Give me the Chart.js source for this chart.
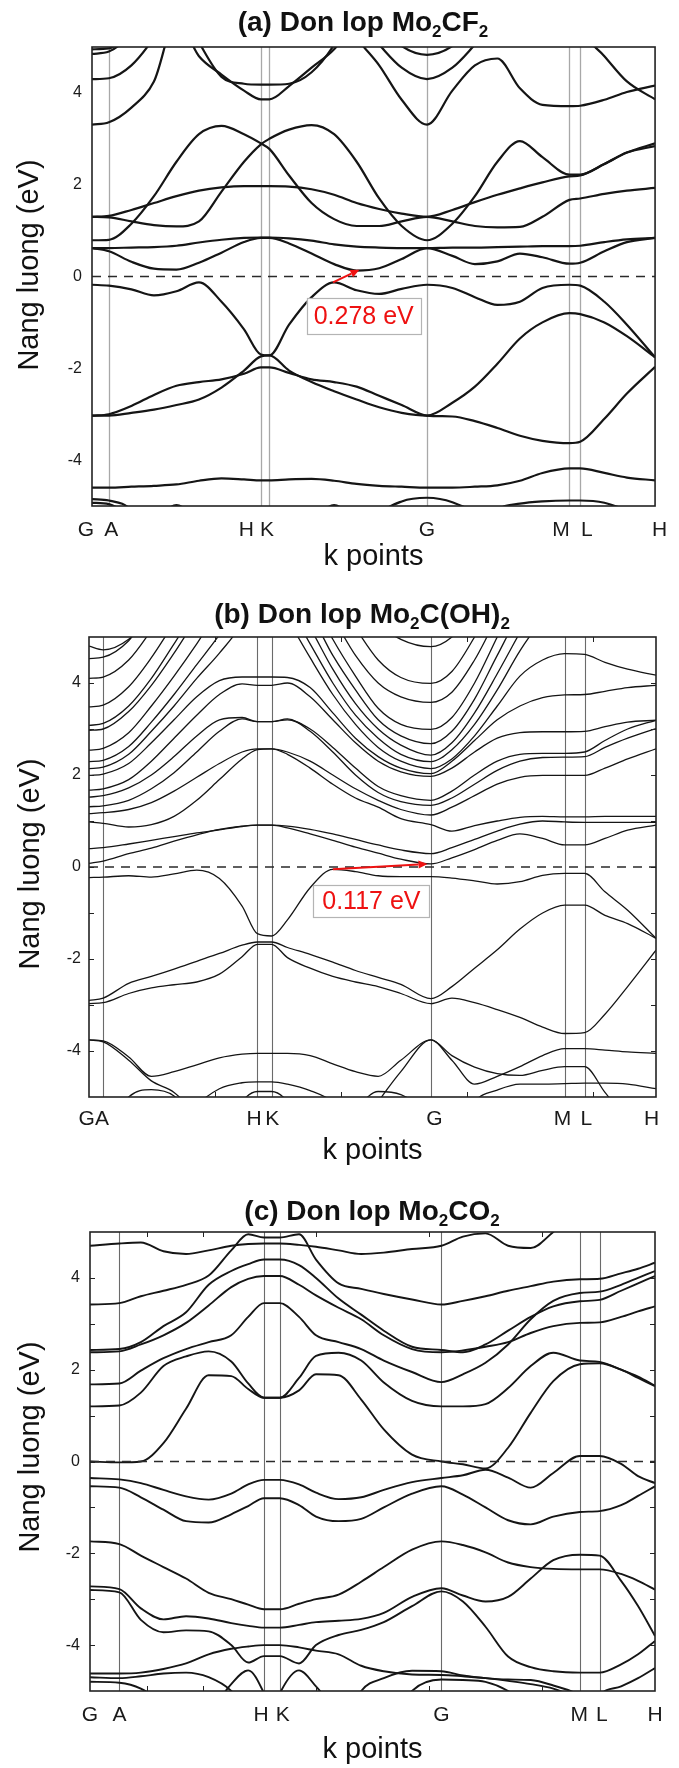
<!DOCTYPE html>
<html>
<head>
<meta charset="utf-8">
<script src="https://cdn.jsdelivr.net/npm/chart.js@4.4.1/dist/chart.umd.min.js"></script>
<style>
html, body { margin: 0; padding: 0; background: #fff; }
#wrap { position: relative; width: 679px; height: 1768px; }
#wrap canvas { position: absolute; left: 0; }
</style>
</head>
<body>
<div id="wrap">
  <canvas id="panelA" width="679" height="585" style="top:0px"></canvas>
  <canvas id="panelB" width="679" height="590" style="top:585px"></canvas>
  <canvas id="panelC" width="679" height="593" style="top:1175px"></canvas>
</div>
<script>
// ---------- shared axis data ----------
const yTickValues = [-4, -2, 0, 2, 4];
const fermiLevel = 0;
const kLabels = ['G', 'A', 'H', 'K', 'G', 'M', 'L', 'H'];

// ---------- (a) Mo2CF2 ----------
const kA = [0, 0.03, 0.07, 0.11, 0.15, 0.19, 0.23, 0.27, 0.30, 0.315, 0.35, 0.39, 0.43, 0.47, 0.51, 0.55, 0.595, 0.64, 0.68, 0.72, 0.76, 0.80, 0.848, 0.867, 0.91, 0.95, 1.0];
const symA = [0, 0.03, 0.30, 0.315, 0.595, 0.848, 0.867, 1];
const labelPosA = [-0.011, 0.034, 0.274, 0.311, 0.595, 0.833, 0.879, 1.008];

const a_cb1 = [0.62,0.55,0.32,0.17,0.15,0.3,0.52,0.75,0.84,0.84,0.72,0.5,0.27,0.13,0.18,0.38,0.62,0.45,0.27,0.33,0.5,0.42,0.28,0.3,0.55,0.75,0.84];
const a_flat = [0.62,0.62,0.63,0.64,0.67,0.74,0.8,0.84,0.85,0.85,0.83,0.78,0.7,0.65,0.63,0.62,0.62,0.63,0.63,0.64,0.65,0.66,0.66,0.67,0.75,0.81,0.84];
const a_humpL = [0.79,0.8,1.15,1.75,2.5,3.1,3.28,3.1,2.9,2.78,2.2,1.6,1.25,1.1,1.1,1.2,1.3,1.2,1.1,1.07,1.08,1.3,1.67,1.7,1.8,1.87,1.93];
const a_humpR = [1.3,1.29,1.2,1.12,1.09,1.2,1.85,2.5,2.88,3.0,3.2,3.3,3.1,2.5,1.7,1.1,0.79,1.15,1.75,2.5,2.95,2.6,2.22,2.22,2.45,2.7,2.9];
const a_arc = [1.3,1.32,1.45,1.6,1.75,1.87,1.94,1.97,1.97,1.97,1.96,1.9,1.78,1.6,1.47,1.37,1.3,1.45,1.62,1.78,1.92,2.05,2.18,2.2,2.45,2.7,2.84];
const a_u1 = [3.31,3.36,3.68,4.25,5.6,4.8,4.4,4.05,3.86,3.86,4.15,4.55,4.95,5.6,6,6,6,6,6,6,6,6,6,6,6,6,6];
const a_u2 = [6,6,6,6,6,5.1,4.35,4.2,4.18,4.18,4.2,4.45,5.05,6,6,6,6,6,6,6,6,6,6,6,6,6,6];
const a_u3 = [4.3,4.32,4.6,5.2,6,6,6,6,6,6,6,6,6,6,6,6,6,6,6,6,6,6,6,6,6,6,6];
const a_u4 = [4.85,4.9,5.3,6,6,6,6,6,6,6,6,6,6,6,6,6,6,6,6,6,6,6,6,6,6,6,6];
const a_u5 = [4.95,4.97,5.4,6,6,6,6,6,6,6,6,6,6,6,6,6,6,6,6,6,6,6,6,6,6,6,6];
const a_vG = [6,6,6,6,6,6,6,6,6,6,6,6,6,5.2,4.6,3.85,3.31,4.05,4.6,4.75,4.1,3.74,3.71,3.72,3.85,4.02,4.16];
const a_uG = [6,6,6,6,6,6,6,6,6,6,6,6,6,5.6,5.05,4.55,4.3,4.55,5.05,5.6,6,6,6,6,6,6,6];
const a_uG2 = [6,6,6,6,6,6,6,6,6,6,6,6,6,6,5.5,5.02,4.83,5.02,5.5,6,6,6,6,6,6,6,6];
const a_topR = [6,6,6,6,6,6,6,6,6,6,6,6,6,6,6,6,6,6,6,6,6,6,6,5.4,4.8,4.25,3.86];
const a_vb1 = [-0.18,-0.2,-0.28,-0.41,-0.32,-0.13,-0.55,-1.15,-1.7,-1.72,-1.05,-0.45,-0.13,-0.3,-0.38,-0.27,-0.18,-0.25,-0.45,-0.62,-0.55,-0.25,-0.18,-0.2,-0.55,-1.05,-1.76];
const a_vb2 = [-3.03,-3.03,-2.97,-2.9,-2.8,-2.68,-2.42,-2.05,-1.74,-1.72,-2.05,-2.3,-2.5,-2.68,-2.85,-2.97,-3.03,-2.75,-2.4,-1.9,-1.35,-1.0,-0.8,-0.82,-1.0,-1.3,-1.76];
const a_vb3 = [-3.03,-3.0,-2.82,-2.58,-2.38,-2.3,-2.24,-2.12,-1.98,-1.98,-2.1,-2.24,-2.3,-2.4,-2.6,-2.8,-3.03,-3.05,-3.15,-3.3,-3.47,-3.58,-3.63,-3.6,-3.1,-2.55,-1.97];
const a_vb4 = [-4.6,-4.6,-4.58,-4.56,-4.53,-4.45,-4.4,-4.42,-4.44,-4.44,-4.42,-4.41,-4.45,-4.52,-4.56,-4.58,-4.6,-4.6,-4.58,-4.55,-4.45,-4.28,-4.18,-4.18,-4.28,-4.38,-4.44];
const a_b1 = [-4.85,-4.88,-5.1,-6,-6,-6,-6,-6,-6,-6,-6,-6,-6,-6,-6,-6,-6,-6,-6,-6,-6,-6,-6,-6,-6,-6,-6];
const a_b2 = [-4.93,-4.96,-5.3,-6,-6,-6,-6,-6,-6,-6,-6,-6,-6,-6,-6,-6,-6,-6,-6,-6,-6,-6,-6,-6,-6,-6,-6];
const a_b3 = [-6,-6,-6,-6,-6,-6,-6,-6,-6,-6,-6,-6,-6,-6,-5.2,-4.9,-4.82,-4.92,-5.2,-6,-6,-6,-6,-6,-6,-6,-6];
const a_b4 = [-6,-6,-6,-6,-6,-6,-6,-6,-6,-6,-6,-6,-6,-6,-6,-6,-6,-6,-6,-5.1,-4.95,-4.9,-4.88,-4.88,-4.93,-5.1,-5.4];
const a_b5 = [-6,-6,-6,-5.4,-4.98,-5.4,-6,-6,-6,-6,-6,-6,-6,-6,-6,-6,-6,-6,-6,-6,-6,-6,-6,-6,-6,-6,-6];
const a_b6 = [-6,-6,-6,-6,-6,-6,-6,-6,-6,-6,-6,-5.4,-4.98,-5.4,-6,-6,-6,-6,-6,-6,-6,-6,-6,-6,-6,-6,-6];
const gapA = 0.278;
const vbmA = [0.428, -0.13];   // k, energy of the valence-band top
const cbmKA = 0.475;           // k of the conduction-band bottom
const gapLabelA = [0.4825, -0.86];

// ---------- (b) Mo2C(OH)2 ----------
const kB = [0, 0.025, 0.07, 0.11, 0.15, 0.19, 0.23, 0.27, 0.297, 0.322, 0.35, 0.39, 0.43, 0.47, 0.51, 0.55, 0.603, 0.64, 0.68, 0.72, 0.76, 0.80, 0.839, 0.874, 0.91, 0.95, 1.0];
const symB = [0, 0.025, 0.297, 0.322, 0.603, 0.839, 0.874, 1];
const labelPosB = [-0.004, 0.023, 0.291, 0.323, 0.609, 0.835, 0.877, 0.992];

const b_cb1 = [0.08,0.13,0.29,0.41,0.56,0.7,0.82,0.89,0.91,0.91,0.85,0.72,0.58,0.43,0.3,0.17,0.067,0.2,0.38,0.58,0.72,0.62,0.48,0.48,0.62,0.8,0.91];
const b_cb2 = [0.4,0.42,0.5,0.58,0.66,0.74,0.81,0.88,0.91,0.91,0.89,0.82,0.72,0.6,0.48,0.37,0.29,0.42,0.6,0.78,0.93,1.0,0.98,0.97,0.97,0.97,0.97];
const b_cb3 = [0.98,0.95,0.87,0.92,1.1,1.45,1.9,2.35,2.55,2.57,2.45,2.15,1.8,1.5,1.3,1.05,0.92,0.78,0.9,1.0,1.08,1.1,1.09,1.09,1.1,1.1,1.1];
const b_cb4 = [1.16,1.18,1.25,1.4,1.65,1.95,2.25,2.5,2.57,2.57,2.5,2.3,2.0,1.7,1.45,1.25,1.13,1.3,1.55,1.8,1.95,1.99,1.99,1.99,2.15,2.35,2.57];
const b_cb5 = [1.31,1.33,1.45,1.7,2.05,2.5,2.95,3.22,3.16,3.16,3.22,2.95,2.5,2.0,1.62,1.42,1.34,1.5,1.8,2.1,2.3,2.38,2.39,2.4,2.6,2.8,3.01];
const b_cb6 = [1.52,1.55,1.72,2.0,2.4,2.85,3.2,3.25,3.16,3.16,3.2,3.0,2.6,2.15,1.75,1.55,1.45,1.65,2.0,2.3,2.45,2.47,2.47,2.5,2.75,3.0,3.19];
const b_cb7 = [1.67,1.7,1.9,2.3,2.8,3.3,3.75,3.98,3.95,3.95,4.0,3.7,3.2,2.7,2.3,2.07,1.97,2.15,2.5,2.8,2.92,2.94,2.94,2.95,3.05,3.15,3.19];
const b_cb8 = [1.99,2.02,2.25,2.7,3.2,3.7,4.05,4.13,4.13,4.13,4.12,3.9,3.35,2.8,2.4,2.15,2.03,2.3,2.75,3.2,3.5,3.68,3.74,3.75,3.82,3.9,3.95];
const b_cb9 = [2.14,2.17,2.45,2.95,3.5,4.1,4.65,5.3,6,6,5.4,4.55,3.75,3.1,2.6,2.3,2.14,2.35,2.85,3.5,4.15,4.5,4.64,4.62,4.45,4.3,4.17];
const b_cb10 = [2.29,2.32,2.62,3.15,3.75,4.4,5.05,5.8,6,6,5.7,4.85,4.0,3.3,2.8,2.45,2.29,2.55,3.1,3.85,4.7,5.4,6,6,6,6,6];
const b_cb11 = [2.54,2.58,2.92,3.5,4.15,4.85,5.6,6,6,6,6,5.2,4.3,3.55,3.0,2.65,2.43,2.7,3.35,4.2,5.1,6,6,6,6,6,6];
const b_cb12 = [2.97,3.0,3.38,3.95,4.65,5.4,6,6,6,6,6,5.5,4.6,3.85,3.2,2.85,2.68,2.95,3.65,4.6,5.5,6,6,6,6,6,6];
const b_cb13 = [3.08,3.12,3.5,4.1,4.85,5.6,6,6,6,6,6,5.9,4.95,4.15,3.45,3.1,2.99,3.25,4.0,5.0,6,6,6,6,6,6,6];
const b_cb14 = [3.48,3.52,3.92,4.55,5.3,6,6,6,6,6,6,6,5.4,4.6,4.0,3.7,3.58,3.8,4.5,5.4,6,6,6,6,6,6,6];
const b_cb15 = [4.1,4.13,4.5,5.15,5.9,6,6,6,6,6,6,6,6,5.2,4.5,4.12,3.99,4.25,5.0,5.9,6,6,6,6,6,6,6];
const b_cb16 = [4.53,4.56,4.92,5.6,6,6,6,6,6,6,6,6,6,6,5.3,4.95,4.79,5.0,5.6,6,6,6,6,6,6,6,6];
const b_cb17 = [4.8,4.72,4.95,5.5,6,6,6,6,6,6,6,6,6,6,6,6,6,6,6,6,6,6,6,6,6,6,6];
const b_vb1 = [-0.23,-0.22,-0.19,-0.22,-0.15,-0.07,-0.25,-0.85,-1.45,-1.5,-1.15,-0.45,-0.05,-0.1,-0.19,-0.21,-0.21,-0.24,-0.3,-0.37,-0.32,-0.18,-0.14,-0.14,-0.54,-0.94,-1.55];
const b_vb2 = [-2.9,-2.85,-2.53,-2.38,-2.22,-2.05,-1.88,-1.7,-1.63,-1.63,-1.75,-1.9,-2.07,-2.25,-2.4,-2.55,-2.86,-2.6,-2.2,-1.8,-1.35,-1.0,-0.83,-0.83,-1.05,-1.23,-1.55];
const b_vb3 = [-2.97,-2.95,-2.75,-2.63,-2.56,-2.5,-2.33,-1.95,-1.68,-1.68,-1.97,-2.2,-2.38,-2.5,-2.6,-2.75,-2.97,-2.85,-2.95,-3.1,-3.27,-3.48,-3.62,-3.6,-3.2,-2.6,-1.81];
const b_vb4 = [-3.76,-3.78,-4.13,-4.55,-4.45,-4.3,-4.15,-4.07,-4.05,-4.05,-4.05,-4.1,-4.28,-4.45,-4.55,-4.2,-3.76,-4.2,-4.72,-4.55,-4.34,-4.1,-3.95,-3.95,-3.98,-4.02,-4.05];
const b_vb5 = [-3.76,-3.8,-4.2,-4.65,-4.9,-5.4,-6,-6,-6,-6,-6,-6,-6,-5.8,-5.1,-4.45,-3.76,-4.1,-4.35,-4.49,-4.53,-4.42,-4.34,-4.34,-4.9,-5.5,-6];
const b_vb6 = [-6,-6,-6,-6,-6,-6,-6,-6,-6,-6,-6,-6,-6,-6,-6,-6,-6,-6,-5.1,-4.85,-4.72,-4.72,-4.71,-4.7,-4.7,-4.72,-4.82];
const b_vb7 = [-6,-6,-6,-6,-6,-5.2,-4.82,-4.69,-4.67,-4.67,-4.72,-4.86,-5.1,-5.6,-6,-6,-6,-6,-6,-6,-6,-6,-6,-6,-6,-6,-6];
const b_vb8 = [-6,-6,-6,-6,-6,-6,-6,-5.1,-4.88,-4.88,-5.1,-6,-6,-6,-6,-6,-6,-6,-6,-6,-6,-6,-6,-6,-6,-6,-6];
const b_vb9 = [-6,-6,-5.0,-4.84,-4.98,-5.6,-6,-6,-6,-6,-6,-6,-6,-6,-6,-6,-6,-6,-6,-6,-6,-6,-6,-6,-6,-6,-6];
const b_vb10 = [-6,-6,-6,-6,-6,-6,-6,-6,-6,-6,-6,-6,-6,-5.3,-4.88,-4.95,-5.4,-6,-6,-6,-6,-6,-6,-6,-6,-6,-6];
const gapB = 0.117;
const vbmB = [0.43, -0.05];
const cbmKB = 0.597;
const gapLabelB = [0.498, -0.74];

// ---------- (c) Mo2CO2 ----------
const kC = [0, 0.052, 0.09, 0.13, 0.17, 0.21, 0.25, 0.28, 0.308, 0.336, 0.37, 0.40, 0.44, 0.48, 0.52, 0.57, 0.622, 0.66, 0.70, 0.74, 0.78, 0.82, 0.867, 0.902, 0.94, 0.97, 1.0];
const symC = [0, 0.052, 0.308, 0.336, 0.622, 0.867, 0.902, 1];
const labelPosC = [0, 0.052, 0.303, 0.341, 0.622, 0.866, 0.906, 1.0];

const c_cb1 = [0,-0.02,0,0.4,1.15,1.88,1.86,1.58,1.39,1.39,1.55,1.9,1.88,1.35,0.7,0.15,0,-0.06,-0.15,0.3,1.06,1.75,2.12,2.14,2.0,1.82,1.64];
const c_cb2 = [1.2,1.22,1.5,2.08,2.29,2.4,2.18,1.7,1.39,1.39,1.82,2.3,2.37,2.2,1.72,1.32,1.2,1.2,1.25,1.6,2.08,2.37,2.2,2.17,2.0,1.85,1.65];
const c_cb3 = [1.68,1.7,1.98,2.25,2.45,2.6,2.75,3.15,3.45,3.45,3.15,2.75,2.6,2.45,2.2,1.95,1.73,1.9,2.15,2.55,3.1,3.5,3.67,3.7,3.85,4.0,4.15];
const c_cb4 = [2.38,2.4,2.55,2.75,3.02,3.4,3.8,3.98,4.04,4.04,3.85,3.62,3.35,3.1,2.75,2.45,2.38,2.42,2.5,2.6,2.8,2.95,3.02,3.03,3.15,3.27,3.38];
const c_cb5 = [2.43,2.45,2.6,2.95,3.25,3.85,4.15,4.3,4.4,4.4,4.28,4.0,3.55,3.2,2.85,2.5,2.43,2.38,2.55,2.85,3.15,3.38,3.49,3.52,3.72,3.88,4.04];
const c_cb6 = [3.42,3.45,3.6,3.72,3.85,4.05,4.6,4.95,4.88,4.88,4.95,4.4,3.88,3.76,3.65,3.53,3.42,3.5,3.6,3.72,3.82,3.92,3.97,3.98,4.1,4.2,4.33];
const c_cb7 = [4.7,4.75,4.77,4.58,4.52,4.6,4.7,4.74,4.75,4.75,4.72,4.68,4.6,4.52,4.55,4.63,4.7,4.9,4.97,4.7,4.65,5.0,5.5,6,6,6,6];
const c_vb1 = [-0.36,-0.39,-0.47,-0.62,-0.76,-0.83,-0.7,-0.5,-0.4,-0.4,-0.5,-0.68,-0.82,-0.78,-0.62,-0.45,-0.36,-0.3,-0.18,-0.35,-0.57,-0.25,0.12,0.12,-0.05,-0.32,-0.47];
const c_vb2 = [-0.54,-0.57,-0.78,-1.05,-1.3,-1.33,-1.15,-0.97,-0.8,-0.8,-0.95,-1.2,-1.3,-1.25,-1.0,-0.7,-0.54,-0.72,-1.0,-1.28,-1.37,-1.2,-1.1,-1.08,-0.95,-0.75,-0.54];
const c_vb3 = [-1.74,-1.8,-2.05,-2.3,-2.55,-2.86,-3.0,-3.12,-3.22,-3.22,-3.1,-3.0,-2.9,-2.62,-2.3,-1.92,-1.74,-1.82,-1.98,-2.2,-2.3,-2.34,-2.35,-2.35,-2.45,-2.6,-2.79];
const c_vb4 = [-2.72,-2.78,-3.2,-3.44,-3.37,-3.42,-3.52,-3.58,-3.62,-3.62,-3.56,-3.5,-3.47,-3.43,-3.3,-2.95,-2.76,-2.92,-3.05,-2.95,-2.55,-2.15,-2.03,-2.05,-2.6,-3.15,-3.8];
const c_vb5 = [-2.8,-2.85,-3.45,-3.72,-3.68,-3.7,-4.0,-4.38,-4.24,-4.24,-4.4,-4.0,-3.78,-3.67,-3.5,-3.15,-2.83,-3.05,-3.6,-4.25,-4.48,-4.57,-4.6,-4.6,-4.42,-4.2,-3.91];
const c_vb6 = [-4.62,-4.62,-4.6,-4.52,-4.4,-4.2,-4.08,-4.03,-4.0,-4.0,-4.05,-4.12,-4.2,-4.45,-4.57,-4.64,-4.65,-4.68,-4.72,-4.78,-4.85,-4.95,-5.2,-5.5,-6,-6,-6];
const c_vb7 = [-6,-6,-6,-6,-6,-5.5,-4.85,-4.55,-5.05,-6,-6,-6,-6,-6,-6,-6,-6,-6,-6,-6,-6,-6,-6,-6,-6,-6,-6];
const c_vb8 = [-6,-6,-6,-6,-6,-6,-6,-6,-6,-5.05,-4.55,-4.9,-5.5,-6,-6,-6,-6,-6,-6,-6,-6,-6,-6,-6,-6,-6,-6];
const c_vb9 = [-4.7,-4.72,-4.68,-4.62,-4.6,-4.7,-5.0,-5.5,-6,-6,-6,-6,-6,-6,-6,-6,-6,-6,-6,-6,-6,-6,-6,-6,-6,-6,-6];
const c_vb10 = [-4.8,-4.82,-4.95,-5.3,-6,-6,-6,-6,-6,-6,-6,-6,-6,-6,-6,-6,-6,-6,-6,-6,-6,-6,-6,-6,-6,-6,-6];
const c_vb11 = [-6,-6,-6,-6,-6,-6,-6,-6,-6,-6,-6,-6,-6,-5.0,-4.72,-4.56,-4.57,-4.66,-4.72,-4.75,-4.76,-4.88,-5.1,-5.5,-6,-6,-6];
const c_vb12 = [-6,-6,-6,-6,-6,-6,-6,-6,-6,-6,-6,-6,-6,-6,-6,-5.0,-4.75,-4.76,-4.8,-5.0,-5.4,-6,-6,-6,-6,-6,-6];
const c_vb13 = [-6,-6,-6,-6,-6,-6,-6,-6,-6,-6,-6,-6,-6,-6,-6,-6,-6,-6,-6,-6,-6,-6,-6,-5.1,-4.9,-4.72,-4.5];

// ---------- drawing helpers ----------
const FONT = "'Liberation Sans', Arial, Helvetica, sans-serif";
Chart.defaults.font.family = FONT;
Chart.defaults.color = '#222';

// grey vertical lines at the high-symmetry points
const symLinesPlugin = {
  id: 'symLines',
  beforeDatasetsDraw(chart, args, o) {
    const {ctx, chartArea: a, scales: {x}} = chart;
    ctx.save();
    ctx.strokeStyle = o.color;
    ctx.lineWidth = o.width;
    o.pos.forEach(v => {
      if (v <= 0 || v >= 1) return;
      const px = Math.round(x.getPixelForValue(v)) + 0.5;
      ctx.beginPath(); ctx.moveTo(px, a.top); ctx.lineTo(px, a.bottom); ctx.stroke();
    });
    ctx.restore();
  }
};

// plot frame with optional inward tick marks
const framePlugin = {
  id: 'frame',
  afterDatasetsDraw(chart, args, o) {
    const {ctx, chartArea: a, scales: {x, y}} = chart;
    ctx.save();
    ctx.strokeStyle = '#222';
    ctx.lineWidth = 1;
    (o.yTicks || []).forEach(v => {
      const py = Math.round(y.getPixelForValue(v)) + 0.5;
      ctx.beginPath();
      ctx.moveTo(a.left, py); ctx.lineTo(a.left + o.tickLen, py);
      ctx.moveTo(a.right, py); ctx.lineTo(a.right - o.tickLen, py);
      ctx.stroke();
    });
    (o.xTicks || []).forEach(v => {
      const px = Math.round(x.getPixelForValue(v)) + 0.5;
      ctx.beginPath();
      ctx.moveTo(px, a.top); ctx.lineTo(px, a.top + o.tickLen);
      ctx.moveTo(px, a.bottom); ctx.lineTo(px, a.bottom - o.tickLen);
      ctx.stroke();
    });
    ctx.lineWidth = o.width;
    ctx.strokeRect(a.left, a.top, a.right - a.left, a.bottom - a.top);
    ctx.restore();
  }
};

// band-gap arrow and its boxed value
const gapPlugin = {
  id: 'gapNote',
  afterDatasetsDraw(chart, args, o) {
    if (!o || !o.gap) return;
    const {ctx, scales: {x, y}} = chart;
    const x0 = x.getPixelForValue(o.vbm[0]), y0 = y.getPixelForValue(o.vbm[1]);
    const x1 = x.getPixelForValue(o.cbmK), y1 = y.getPixelForValue(o.vbm[1] + o.gap);
    const ang = Math.atan2(y1 - y0, x1 - x0);
    const head = 9, half = 4;
    ctx.save();
    ctx.strokeStyle = '#ee1111';
    ctx.fillStyle = '#ee1111';
    ctx.lineWidth = 2;
    ctx.beginPath();
    ctx.moveTo(x0, y0);
    ctx.lineTo(x1 - head * Math.cos(ang), y1 - head * Math.sin(ang));
    ctx.stroke();
    ctx.beginPath();
    ctx.moveTo(x1, y1);
    ctx.lineTo(x1 - head * Math.cos(ang) + half * Math.sin(ang), y1 - head * Math.sin(ang) - half * Math.cos(ang));
    ctx.lineTo(x1 - head * Math.cos(ang) - half * Math.sin(ang), y1 - head * Math.sin(ang) + half * Math.cos(ang));
    ctx.closePath();
    ctx.fill();

    const text = o.gap.toFixed(3) + ' eV';
    ctx.font = `${o.fontSize}px ${FONT}`;
    const tw = ctx.measureText(text).width;
    const cx = x.getPixelForValue(o.label[0]), cy = y.getPixelForValue(o.label[1]);
    const bw = tw + 2 * o.padX, bh = o.boxH;
    ctx.fillStyle = '#ffffff';
    ctx.fillRect(cx - bw / 2, cy - bh / 2, bw, bh);
    ctx.strokeStyle = '#b4b4b4';
    ctx.lineWidth = 1.2;
    ctx.strokeRect(Math.round(cx - bw / 2) + 0.5, Math.round(cy - bh / 2) + 0.5, Math.round(bw), Math.round(bh));
    ctx.fillStyle = '#ee1111';
    ctx.textAlign = 'center';
    ctx.textBaseline = 'middle';
    ctx.fillText(text, cx, cy + 1);
    ctx.restore();
  }
};

// panel heading (with subscripts) and axis titles
const textPlugin = {
  id: 'panelText',
  afterDraw(chart, args, o) {
    const {ctx, chartArea: a} = chart;
    ctx.save();
    ctx.fillStyle = '#111';
    const big = `bold ${o.headSize}px ${FONT}`;
    const small = `bold ${Math.round(o.headSize * 0.62)}px ${FONT}`;
    let w = 0;
    o.heading.forEach(([t, sub]) => { ctx.font = sub ? small : big; w += ctx.measureText(t).width; });
    let hx = o.headX - w / 2;
    ctx.textAlign = 'left';
    ctx.textBaseline = 'alphabetic';
    o.heading.forEach(([t, sub]) => {
      ctx.font = sub ? small : big;
      ctx.fillText(t, hx, o.headBase + (sub ? Math.round(o.headSize * 0.22) : 0));
      hx += ctx.measureText(t).width;
    });
    ctx.font = `${o.axisSize}px ${FONT}`;
    ctx.textAlign = 'center';
    ctx.textBaseline = 'middle';
    ctx.fillText(o.xTitle, (a.left + a.right) / 2, o.xTitleY);
    ctx.translate(o.yTitleX, o.yTitleY);
    ctx.rotate(-Math.PI / 2);
    ctx.fillText(o.yTitle, 0, 0);
    ctx.restore();
  }
};

function makePanel(canvasId, p) {
  const canvas = document.getElementById(canvasId);
  const datasets = [{
    data: [{x: 0, y: fermiLevel}, {x: 1, y: fermiLevel}],
    borderColor: '#2a2a2a', borderWidth: 1.4, borderDash: [9, 7],
    pointRadius: 0, tension: 0
  }];
  p.bands.forEach(b => datasets.push({
    data: p.k.map((kx, i) => ({x: kx, y: b[i]})),
    borderColor: '#151515', borderWidth: p.lineWidth,
    pointRadius: 0, cubicInterpolationMode: 'monotone', fill: false
  }));
  return new Chart(canvas, {
    type: 'line',
    data: {datasets},
    options: {
      responsive: false,
      animation: false,
      devicePixelRatio: 1,
      events: [],
      layout: {padding: {top: p.area.top, right: canvas.width - p.area.right, left: 0, bottom: 0}},
      plugins: {
        legend: {display: false},
        tooltip: {enabled: false},
        symLines: {pos: p.sym, color: p.symColor, width: p.symWidth},
        frame: {width: 1.6, tickLen: 5, yTicks: p.frameYTicks, xTicks: p.frameXTicks},
        gapNote: p.gapNote || false,
        panelText: p.text
      },
      scales: {
        x: {
          type: 'linear', min: 0, max: 1,
          afterFit: s => { s.height = canvas.height - p.area.bottom; },
          afterBuildTicks: s => { s.ticks = p.labelPos.map(v => ({value: v})); },
          ticks: {
            autoSkip: false, maxRotation: 0, minRotation: 0,
            padding: p.xTickPad, font: {size: 21}, color: '#1a1a1a',
            callback: (v, i) => kLabels[i]
          },
          grid: {display: false, drawTicks: false},
          border: {display: false}
        },
        y: {
          type: 'linear', min: -5, max: 5,
          afterFit: s => { s.width = p.area.left; },
          afterBuildTicks: s => { s.ticks = yTickValues.map(v => ({value: v})); },
          ticks: {padding: p.yTickPad, font: {size: 16}, color: '#1a1a1a', callback: v => String(v)},
          grid: {display: false, drawTicks: false},
          border: {display: false}
        }
      }
    },
    plugins: [symLinesPlugin, framePlugin, gapPlugin, textPlugin]
  });
}

const unitTicks = [-4, -3, -2, -1, 0, 1, 2, 3, 4];

makePanel('panelA', {
  k: kA, sym: symA, labelPos: labelPosA,
  bands: [a_cb1, a_flat, a_humpL, a_humpR, a_arc, a_u1, a_u2, a_u3, a_u4, a_u5, a_vG, a_uG, a_uG2, a_topR,
          a_vb1, a_vb2, a_vb3, a_vb4, a_b1, a_b2, a_b3, a_b4, a_b5, a_b6],
  lineWidth: 2.2, symColor: '#a8a8a8', symWidth: 1.3,
  area: {left: 92, right: 661, top: 47, bottom: 506},
  xTickPad: 12, yTickPad: 10,
  gapNote: {gap: gapA, vbm: vbmA, cbmK: cbmKA, label: gapLabelA, fontSize: 25, padX: 7, boxH: 36},
  text: {
    heading: [['(a) Don lop Mo', false], ['2', true], ['CF', false], ['2', true]],
    headSize: 28, headX: 363, headBase: 31,
    axisSize: 29, xTitle: 'k points', xTitleY: 557,
    yTitle: 'Nang luong (eV)', yTitleX: 30, yTitleY: 265
  }
});

makePanel('panelB', {
  k: kB, sym: symB, labelPos: labelPosB,
  bands: [b_cb1, b_cb2, b_cb3, b_cb4, b_cb5, b_cb6, b_cb7, b_cb8, b_cb9, b_cb10, b_cb11, b_cb12, b_cb13,
          b_cb14, b_cb15, b_cb16, b_cb17, b_vb1, b_vb2, b_vb3, b_vb4, b_vb5, b_vb6, b_vb7, b_vb8, b_vb9, b_vb10],
  lineWidth: 1.3, symColor: '#6a6a6a', symWidth: 1.1,
  area: {left: 89, right: 656, top: 52, bottom: 512},
  xTickPad: 10, yTickPad: 8,
  frameYTicks: unitTicks, frameXTicks: [0.222, 0.444, 0.667, 0.889],
  gapNote: {gap: gapB, vbm: vbmB, cbmK: cbmKB, label: gapLabelB, fontSize: 25, padX: 9, boxH: 32},
  text: {
    heading: [['(b) Don lop Mo', false], ['2', true], ['C(OH)', false], ['2', true]],
    headSize: 28, headX: 362, headBase: 38,
    axisSize: 29, xTitle: 'k points', xTitleY: 566,
    yTitle: 'Nang luong (eV)', yTitleX: 31, yTitleY: 279
  }
});

makePanel('panelC', {
  k: kC, sym: symC, labelPos: labelPosC,
  bands: [c_cb1, c_cb2, c_cb3, c_cb4, c_cb5, c_cb6, c_cb7, c_vb1, c_vb2, c_vb3, c_vb4, c_vb5, c_vb6,
          c_vb7, c_vb8, c_vb9, c_vb10, c_vb11, c_vb12, c_vb13],
  lineWidth: 1.9, symColor: '#6a6a6a', symWidth: 1.1,
  area: {left: 90, right: 655, top: 57, bottom: 516},
  xTickPad: 12, yTickPad: 10,
  frameYTicks: unitTicks, frameXTicks: [0.1, 0.2, 0.4, 0.6, 0.8],
  text: {
    heading: [['(c) Don lop Mo', false], ['2', true], ['CO', false], ['2', true]],
    headSize: 28, headX: 372, headBase: 45,
    axisSize: 29, xTitle: 'k points', xTitleY: 575,
    yTitle: 'Nang luong (eV)', yTitleX: 31, yTitleY: 272
  }
});
</script>
</body>
</html>
